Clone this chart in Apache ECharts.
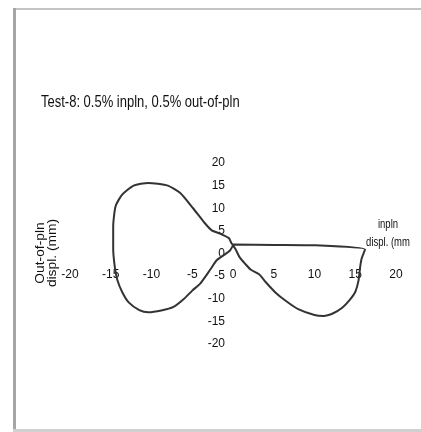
<!DOCTYPE html>
<html>
<head>
<meta charset="utf-8">
<script src="https://cdn.jsdelivr.net/npm/echarts@6/dist/echarts.min.js"></script>
<style>html,body{margin:0;padding:0;background:#fff}#c{width:421px;height:432px}</style>
</head>
<body>
<div id="c"></div>
<script>
var titleText = 'Test-8: 0.5% inpln, 0.5% out-of-pln';
var xAxisTitle = ['inpln', 'displ. (mm'];
var yAxisTitle = 'Out-of-pln\ndispl. (mm)';
var xTicks = [-20, -15, -10, -5, 0, 5, 10, 15, 20];
var yTicks = [-20, -15, -10, -5, 0, 5, 10, 15, 20];
// in-plane displacement (mm), in path order
var inplane = [0.0, 5.0, 10.1, 16.2, 15.8, 15.6, 15.4, 15.0, 14.3, 13.4, 12.3, 11.1, 10.0, 8.0, 6.5, 5.2, 4.0, 3.2, 2.2, 1.5, 0.8, 0.3, -0.2, -0.5, -1.6, -2.6, -3.5, -4.9, -6.5, -8.0, -10.4, -12.2, -13.6, -14.4, -14.7, -14.7, -14.5, -14.2, -13.6, -12.8, -11.5, -10.4, -8.8, -7.3, -6.0, -5.0, -4.0, -2.8, -2.0, -1.0, -0.4, 0.0];
// out-of-plane displacement (mm), in path order
var outplane = [2.0, 1.9, 1.8, 0.9, -1.0, -3.0, -6.0, -8.5, -10.3, -12.0, -13.2, -13.8, -13.6, -12.3, -10.5, -8.6, -6.3, -4.6, -3.6, -2.3, -0.8, 1.0, 2.3, 3.4, 4.4, 5.1, 6.8, 10.0, 13.4, 15.0, 15.6, 15.0, 13.0, 10.5, 6.0, 1.0, -3.0, -5.8, -8.5, -10.8, -12.5, -13.0, -12.6, -11.8, -10.0, -8.2, -6.6, -3.6, -1.5, -0.2, 0.6, 1.8];

var data = inplane.map(function (v, i) { return [v, outplane[i]]; });
var sans = "'Liberation Sans', Arial, sans-serif";
var chart = echarts.init(document.getElementById('c'));
chart.setOption({
  animation: false,
  backgroundColor: '#ffffff',
  grid: { left: 70, right: 25, top: 163, bottom: 88, containLabel: false },
  xAxis: {
    type: 'value', min: xTicks[0], max: xTicks[xTicks.length - 1], interval: 5,
    axisLine: { show: false, onZero: false },
    axisTick: { show: false }, splitLine: { show: false },
    axisLabel: { margin: 15, color: '#111', fontFamily: sans, fontSize: 12 }
  },
  yAxis: {
    type: 'value', min: yTicks[0], max: yTicks[yTicks.length - 1], interval: 5,
    axisLine: { show: false, onZero: false },
    axisTick: { show: false }, splitLine: { show: false },
    axisLabel: { margin: 8, color: '#111', fontFamily: sans, fontSize: 12 }
  },
  series: [{
    type: 'line', data: data, showSymbol: false, symbol: 'none',
    lineStyle: { color: '#333333', width: 2 }, smooth: 0.2
  }],
  graphic: [
    { type: 'rect', shape: { x: 13, y: 8, width: 420, height: 2 }, style: { fill: '#c4c4c4' }, silent: true },
    { type: 'rect', shape: { x: 13, y: 8, width: 3, height: 430 }, style: { fill: '#a6a6a6' }, silent: true },
    { type: 'rect', shape: { x: 13, y: 429, width: 420, height: 3 }, style: { fill: '#d0d0d0' }, silent: true },
    { type: 'text', x: 41, y: 102, scaleY: 1.3,
      style: { text: titleText, fill: '#111', verticalAlign: 'middle', font: "13px 'Liberation Sans', Arial" } },
    { type: 'text', x: 46.5, y: 253, rotation: Math.PI / 2, scaleX: 1.15,
      style: { text: yAxisTitle, fill: '#111', align: 'center', verticalAlign: 'middle', lineHeight: 11.5, font: "12px 'Liberation Sans', Arial" } },
    { type: 'text', x: 388, y: 224, scaleY: 1.4,
      style: { text: xAxisTitle[0], fill: '#111', align: 'center', verticalAlign: 'middle', font: "9.5px 'Liberation Sans', Arial" } },
    { type: 'text', x: 388, y: 242, scaleY: 1.4,
      style: { text: xAxisTitle[1], fill: '#111', align: 'center', verticalAlign: 'middle', font: "9.5px 'Liberation Sans', Arial" } }
  ]
});
// Place the axes so they cross at (0, 0), like the original chart.
var pMin = chart.convertToPixel({ gridIndex: 0 }, [xTicks[0], yTicks[0]]);
var pZero = chart.convertToPixel({ gridIndex: 0 }, [0, 0]);
chart.setOption({
  xAxis: { offset: -(pMin[1] - pZero[1]) },
  yAxis: { offset: -(pZero[0] - pMin[0]) }
});
</script>
</body>
</html>
